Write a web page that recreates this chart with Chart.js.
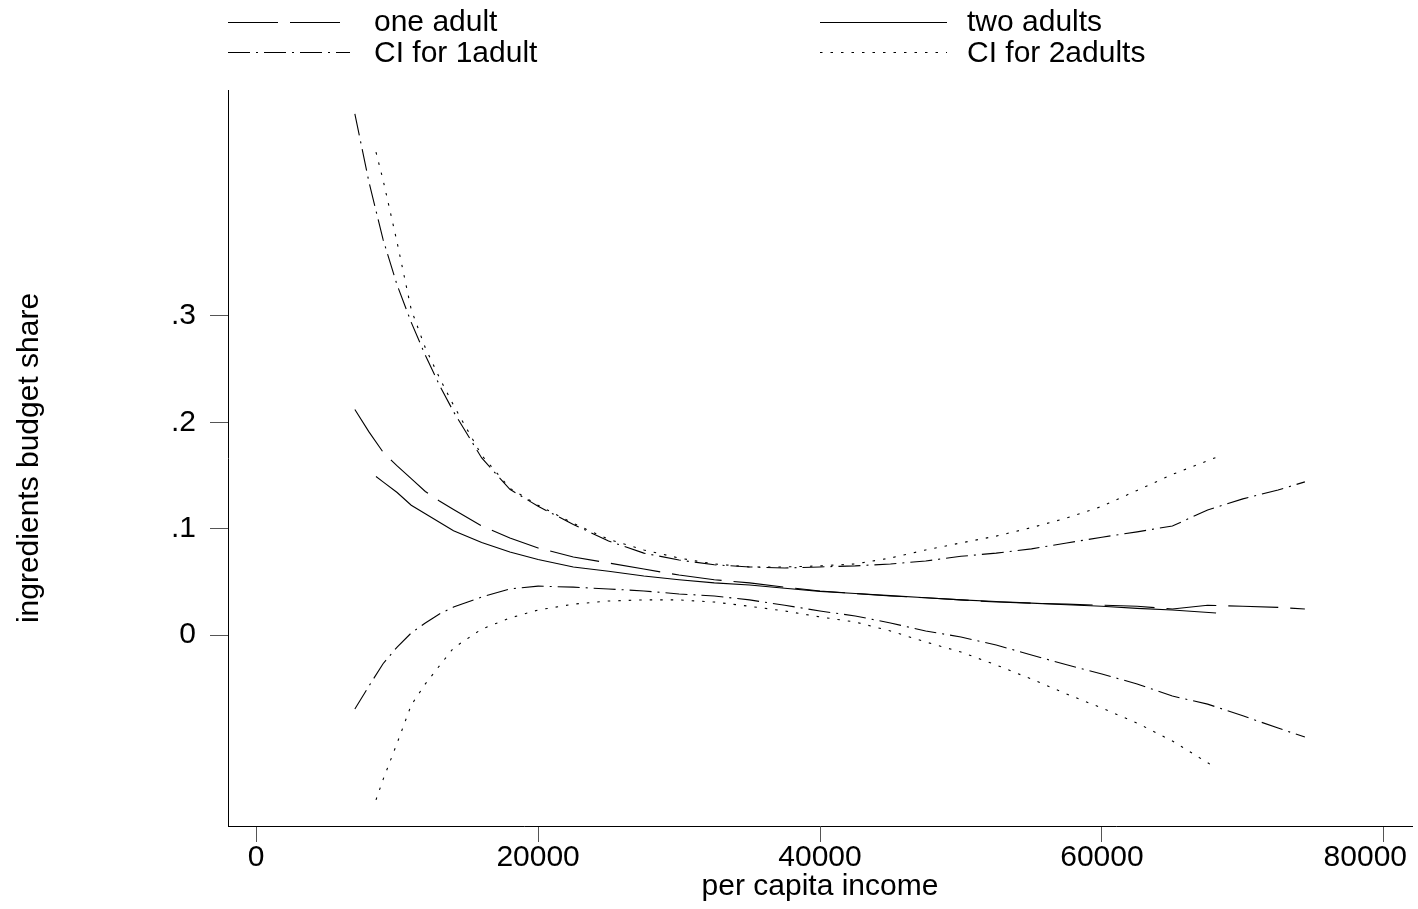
<!DOCTYPE html>
<html><head><meta charset="utf-8">
<script src="https://cdn.jsdelivr.net/npm/chart.js@4.4.1/dist/chart.umd.min.js"></script>
<style>html,body{margin:0;padding:0;background:#fff;}#wrap{width:1418px;height:909px;}</style>
</head><body><div id="wrap"><canvas id="c" width="1418" height="909"></canvas></div>
<script>
// ---- data ----
const seriesNames = ['one adult', 'two adults', 'CI for 1adult', 'CI for 2adults'];

const incomeOne = [7000, 8000, 9000, 10000, 11000, 12000, 13000, 14000, 16000, 18000, 20000, 22500, 25000, 27500, 30000, 32500, 35000, 37500, 40000, 42500, 45000, 47500, 50000, 52500, 55000, 57500, 60000, 62500, 65000, 67500, 70000, 72500, 74400];
const shareOne = [0.212, 0.191, 0.172, 0.159, 0.147, 0.135, 0.126, 0.118, 0.1025, 0.0913, 0.0818, 0.0734, 0.0677, 0.062, 0.0564, 0.052, 0.049, 0.045, 0.0414, 0.039, 0.0367, 0.035, 0.033, 0.031, 0.030, 0.029, 0.028, 0.027, 0.0245, 0.028, 0.027, 0.026, 0.0245];
const ciOneUpper = [0.490, 0.426, 0.372, 0.329, 0.294, 0.263, 0.235, 0.210, 0.1665, 0.137, 0.121, 0.104, 0.0884, 0.077, 0.0705, 0.066, 0.064, 0.063, 0.064, 0.065, 0.0668, 0.0696, 0.074, 0.077, 0.081, 0.0865, 0.092, 0.097, 0.1025, 0.1176, 0.128, 0.1364, 0.144];
const ciOneLower = [-0.0696, -0.048, -0.027, -0.0113, 0.0019, 0.0113, 0.0198, 0.0263, 0.0357, 0.0433, 0.046, 0.045, 0.0433, 0.0414, 0.0386, 0.0367, 0.033, 0.028, 0.0226, 0.0179, 0.0113, 0.0038, -0.0019, -0.0094, -0.0188, -0.028, -0.0367, -0.046, -0.0574, -0.065, -0.076, -0.0875, -0.096];

const incomeTwo = [8500, 9000, 10000, 11000, 12000, 13000, 14000, 16000, 18000, 20000, 22500, 25000, 27500, 30000, 32500, 35000, 37500, 40000, 42500, 45000, 47500, 50000, 52500, 55000, 57500, 60000, 62500, 65000, 68100];
const shareTwo = [0.149, 0.144, 0.134, 0.122, 0.114, 0.106, 0.098, 0.087, 0.078, 0.071, 0.064, 0.060, 0.0555, 0.052, 0.049, 0.047, 0.044, 0.041, 0.039, 0.037, 0.035, 0.033, 0.0315, 0.030, 0.0285, 0.027, 0.025, 0.0235, 0.0207];
const ciTwoUpper = [0.454, 0.428, 0.369, 0.306, 0.270, 0.242, 0.216, 0.169, 0.138, 0.122, 0.105, 0.090, 0.080, 0.0724, 0.0668, 0.064, 0.064, 0.065, 0.0668, 0.0724, 0.080, 0.0866, 0.093, 0.101, 0.110, 0.121, 0.136, 0.151, 0.167];
const ciTwoLower = [-0.155, -0.136, -0.1016, -0.0659, -0.046, -0.029, -0.0122, 0.0056, 0.016, 0.0235, 0.029, 0.032, 0.033, 0.033, 0.031, 0.027, 0.0226, 0.017, 0.0122, 0.0038, -0.0066, -0.016, -0.0282, -0.0414, -0.0555, -0.0687, -0.0828, -0.0997, -0.125];

const xTickValues = [0, 20000, 40000, 60000, 80000];
const xTickLabels = ['0', '20000', '40000', '60000', '80000'];
const yTickValues = [0, 0.1, 0.2, 0.3];
const yTickLabels = ['0', '.1', '.2', '.3'];
const xTitle = 'per capita income';
const yTitle = 'ingredients budget share';

// ---- styling ----
const FONT = '"Liberation Sans", Arial, Helvetica, sans-serif';
const dashOne = [50, 12];
const dashCI1 = [22, 6, 2, 6];
const dashCI2 = [2.5, 8];

const pts = (xs, ys) => xs.map((x, i) => ({ x: x, y: ys[i] }));
const base = { borderColor: '#000', borderWidth: 1.1, pointRadius: 0, tension: 0, fill: false };

const datasets = [
  Object.assign({}, base, { label: seriesNames[0], data: pts(incomeOne, shareOne), borderDash: dashOne }),
  Object.assign({}, base, { label: seriesNames[1], data: pts(incomeTwo, shareTwo), borderDash: [] }),
  Object.assign({}, base, { label: seriesNames[2], data: pts(incomeOne, ciOneUpper), borderDash: dashCI1 }),
  Object.assign({}, base, { label: seriesNames[3], data: pts(incomeTwo, ciTwoUpper), borderDash: dashCI2 }),
  Object.assign({}, base, { label: seriesNames[2] + ' lower', data: pts(incomeOne, ciOneLower), borderDash: dashCI1 }),
  Object.assign({}, base, { label: seriesNames[3] + ' lower', data: pts(incomeTwo, ciTwoLower), borderDash: dashCI2 })
];

const decor = {
  id: 'decor',
  afterDraw(chart) {
    const ctx = chart.ctx;
    const xs = chart.scales.x;
    ctx.save();
    ctx.font = '30px ' + FONT;
    ctx.fillStyle = '#000';
    // x tick labels (last label kept inside the canvas)
    ctx.textBaseline = 'middle';
    ctx.textAlign = 'center';
    xTickValues.forEach((v, i) => {
      const lab = xTickLabels[i];
      const w = ctx.measureText(lab).width;
      let px = xs.getPixelForValue(v);
      const maxRight = chart.width - 11;
      if (px + w / 2 > maxRight) px = maxRight - w / 2;
      ctx.fillText(lab, px, 858);
    });
    // legend (2 x 2)
    const cols = [{ x: 228, len: 122, tx: 374 }, { x: 820, len: 127, tx: 967 }];
    const rows = [{ ly: 22.5, ty: 30.5 }, { ly: 52.5, ty: 61.5 }];
    ctx.textAlign = 'left';
    ctx.textBaseline = 'alphabetic';
    for (let i = 0; i < 4; i++) {
      const ds = chart.data.datasets[i];
      const c = cols[i % 2], r = rows[Math.floor(i / 2)];
      ctx.beginPath();
      ctx.setLineDash(ds.borderDash || []);
      ctx.lineWidth = 1.1;
      ctx.strokeStyle = '#000';
      ctx.moveTo(c.x, r.ly);
      ctx.lineTo(c.x + c.len, r.ly);
      ctx.stroke();
      ctx.setLineDash([]);
      ctx.fillText(ds.label, c.tx, r.ty);
    }
    ctx.restore();
  }
};

new Chart(document.getElementById('c'), {
  type: 'line',
  data: { datasets: datasets },
  options: {
    responsive: false,
    animation: false,
    devicePixelRatio: 1,
    layout: { padding: { top: 90, right: 6, left: 0, bottom: 0 } },
    plugins: { legend: { display: false }, tooltip: { enabled: false }, title: { display: false } },
    scales: {
      x: {
        type: 'linear', position: 'bottom', min: -2000, max: 82000,
        afterBuildTicks: s => { s.ticks = xTickValues.map(v => ({ value: v })); },
        afterFit: s => { s.height = 83; s.paddingLeft = 0; s.paddingRight = 0; },
        ticks: { display: false },
        grid: { drawOnChartArea: false, drawTicks: true, tickLength: 16, color: '#555', lineWidth: 1 },
        border: { display: true, color: '#000', width: 1 },
        title: { display: true, text: xTitle, color: '#000', font: { family: FONT, size: 30, lineHeight: 1.2 }, padding: { top: 0, bottom: 4 } }
      },
      y: {
        type: 'linear', position: 'left', min: -0.1796, max: 0.5125,
        afterBuildTicks: s => { s.ticks = yTickValues.map(v => ({ value: v })); },
        afterFit: s => { s.width = 228; s.paddingTop = 0; s.paddingBottom = 0; },
        ticks: {
          color: '#000', padding: 14, font: { family: FONT, size: 30, lineHeight: 1.2 },
          callback: (v) => { const i = yTickValues.findIndex(t => Math.abs(t - v) < 1e-9); return i >= 0 ? yTickLabels[i] : ''; }
        },
        grid: { drawOnChartArea: false, drawTicks: true, tickLength: 18, color: '#555', lineWidth: 1 },
        border: { display: true, color: '#000', width: 1 },
        title: { display: true, text: yTitle, color: '#000', font: { family: FONT, size: 30, lineHeight: 1.2 }, padding: { top: 12, bottom: 0 } }
      }
    }
  },
  plugins: [decor]
});
</script></body></html>
